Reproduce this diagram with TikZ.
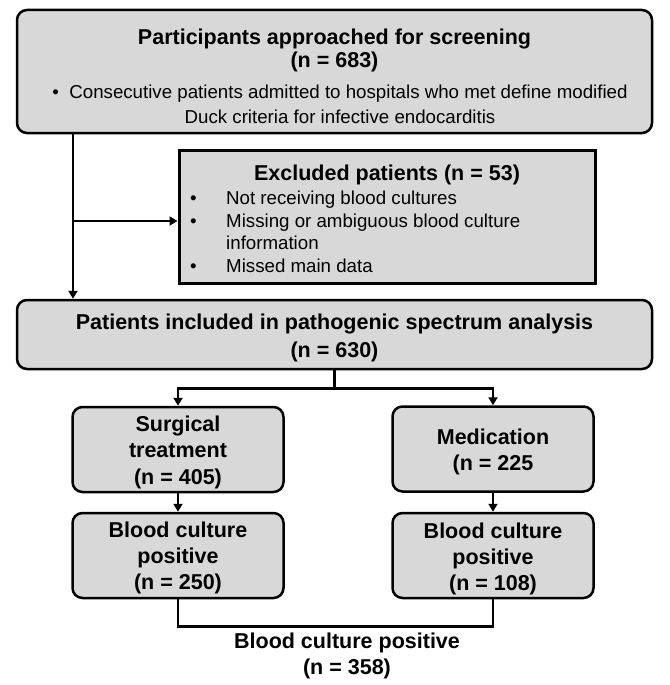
\documentclass[tikz,border=0pt]{standalone}
\usepackage{fontspec}
\setmainfont{Liberation Sans}
\usetikzlibrary{arrows.meta}
\definecolor{boxfill}{RGB}{216,216,216}
\begin{document}
\begin{tikzpicture}[x=1pt,y=-1pt,
  rbox/.style={draw=black, line width=2.5pt, fill=boxfill, rounded corners=10pt, inner sep=0pt},
  sbox/.style={draw=black, line width=3pt, fill=boxfill, inner sep=0pt},
  btxt/.style={font=\fontsize{21.5}{26}\selectfont\bfseries, align=center, inner sep=0pt},
  rtxt/.style={font=\fontsize{18.7}{22.5}\selectfont, inner sep=0pt},
  conn/.style={line width=2.5pt},
  arr/.style={conn, -{Triangle[length=8pt,width=9pt]}}
]
\useasboundingbox (0,0) rectangle (669,685);

% boxes
\node[rbox, minimum width=635pt, minimum height=123pt] (screen) at (334.5,71.5) {};
\node[sbox, minimum width=416pt, minimum height=133pt] (excl) at (387,216.5) {};
\node[rbox, minimum width=635pt, minimum height=69pt] (incl) at (334.5,334.5) {};
\node[rbox, minimum width=211pt, minimum height=85pt] (surg) at (178,449.5) {};
\node[rbox, minimum width=201pt, minimum height=85pt] (med) at (493,449) {};
\node[rbox, minimum width=211pt, minimum height=85pt] (bcl) at (178,555.5) {};
\node[rbox, minimum width=201pt, minimum height=85pt] (bcr) at (493,555.5) {};

% texts
\node[btxt, font=\fontsize{21.5}{23}\selectfont\bfseries] (screenT) at (334.5,50.5) {Participants approached for screening\\(n = 683)};
\node[rtxt, align=center, font=\fontsize{18.7}{25}\selectfont] (screenB) at (340,104) {\textbullet\ \ Consecutive patients admitted to hospitals who met define modified\\Duck criteria for infective endocarditis};
\node[btxt] (exclT) at (387,175) {Excluded patients (n = 53)};
\node[rtxt, align=left, anchor=west] (exclB) at (190,232) {\makebox[36pt][l]{\textbullet}Not receiving blood cultures\\\makebox[36pt][l]{\textbullet}Missing or ambiguous blood culture\\\hspace*{36pt}information\\\makebox[36pt][l]{\textbullet}Missed main data};
\node[btxt, font=\fontsize{21.5}{28}\selectfont\bfseries] (inclT) at (334.5,338) {Patients included in pathogenic spectrum analysis\\(n = 630)};
\node[btxt, font=\fontsize{21.5}{26.5}\selectfont\bfseries] (surgT) at (178,452) {Surgical\\treatment\\(n = 405)};
\node[btxt] (medT) at (493,452) {Medication\\(n = 225};
\node[btxt] (bclT) at (178,558) {Blood culture\\positive\\(n = 250)};
\node[btxt] (bcrT) at (493,559) {Blood culture\\positive\\(n = 108)};

% connectors
\coordinate (trunk) at (73,0);
\draw[arr] (screen.south -| trunk) -- (incl.north -| trunk);
\draw[arr] ([yshift=-4.5pt]excl.west -| trunk) -- ([yshift=-4.5pt]excl.west);
\draw[conn] (incl.south) -- ++(0,18) coordinate (sp);
\draw[arr] (sp) -| (surg.north);
\draw[arr] (sp) -| (med.north);
\draw[arr] (surg.south) -- (bcl.north);
\draw[arr] (med.south) -- (bcr.north);
\draw[conn] (bcl.south) -- ++(0,27) coordinate (jn) -| (bcr.south);
\node[btxt] (total) at (347,656) {Blood culture positive\\(n = 358)};
\end{tikzpicture}
\end{document}
